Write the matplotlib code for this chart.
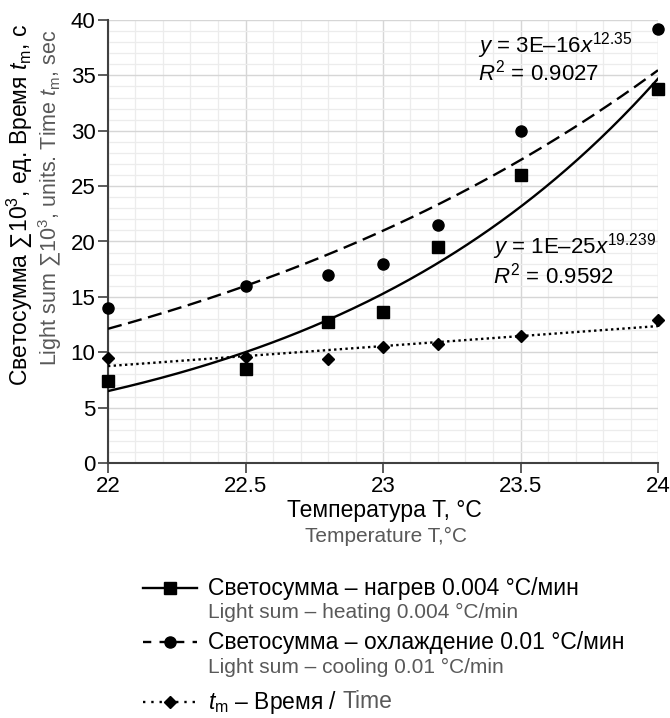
import numpy as np
import matplotlib
matplotlib.use("Agg")
import matplotlib.pyplot as plt
from matplotlib.lines import Line2D
from matplotlib.ticker import MultipleLocator

plt.rcParams['font.family'] = ['Liberation Sans', 'DejaVu Sans']
plt.rcParams['mathtext.fontset'] = 'custom'
plt.rcParams['mathtext.rm'] = 'Liberation Sans'
plt.rcParams['mathtext.it'] = 'Liberation Sans:italic'
plt.rcParams['mathtext.bf'] = 'Liberation Sans:bold'

# ---- data ----
temps = [22, 22.5, 22.8, 23, 23.2, 23.5, 24]
heating = [7.4, 8.5, 12.7, 13.6, 19.5, 26.0, 33.8]
cooling = [14.0, 16.0, 17.0, 18.0, 21.5, 30.0, 39.2]
time_tm = [9.45, 9.55, 9.4, 10.45, 10.7, 11.45, 12.9]
xticks = [22, 22.5, 23, 23.5, 24]
yticks = [0, 5, 10, 15, 20, 25, 30, 35, 40]

eq_cool = r"$y$ = 3E–16$x^{12.35}$" + "\n" + r"$R^{2}$ = 0.9027"
eq_heat = r"$y$ = 1E–25$x^{19.239}$" + "\n" + r"$R^{2}$ = 0.9592"

GRAY = '#595959'
BIG = 16.5
SMALL = 15

fig = plt.figure(figsize=(6.7, 7.18), dpi=100)
ax = fig.add_axes([108/670, 1-463/718, 550/670, 443/718])

x = np.array(temps)
xs = np.linspace(22, 24, 200)

# power-law trend lines fitted on the data
def power_fit(xv, yv):
    b, a = np.polyfit(np.log(xv), np.log(yv), 1)
    return np.exp(a) * xs ** b

ax.plot(xs, power_fit(x, np.array(heating)), color='black', lw=1.7, ls='-', zorder=3)
ax.plot(xs, power_fit(x, np.array(cooling)), color='black', lw=1.7, ls=(0, (6, 2.8)), zorder=3)
k, c = np.polyfit(x, np.array(time_tm), 1)
ax.plot(xs, k * xs + c, color='black', lw=1.7, ls=(0, (1, 1.4)), zorder=3)

ax.plot(temps, heating, ls='none', marker='s', ms=8.5, color='black', zorder=4, clip_on=False)
ax.plot(temps, cooling, ls='none', marker='o', ms=8, color='black', zorder=4, clip_on=False)
ax.plot(temps, time_tm, ls='none', marker='D', ms=6, color='black', zorder=4, clip_on=False)

ax.set_xlim(22, 24)
ax.set_ylim(0, 40)
ax.set_xticks(xticks)
ax.set_xticklabels([f"{t:g}" for t in xticks])
ax.set_yticks(yticks)
ax.xaxis.set_minor_locator(MultipleLocator(0.1))
ax.yaxis.set_minor_locator(MultipleLocator(1))
ax.grid(which='major', color='#d6d6d6', lw=1.0, zorder=0)
ax.grid(which='minor', color='#ececec', lw=0.9, zorder=0)
ax.set_axisbelow(True)
for s in ['top', 'right']:
    ax.spines[s].set_visible(False)
for s in ['left', 'bottom']:
    ax.spines[s].set_color('#404040')
    ax.spines[s].set_linewidth(1.5)
ax.tick_params(which='major', length=7, width=1.2, color='#404040', labelsize=16, pad=2)
ax.tick_params(which='minor', length=0)

# equations (one text block each)
ax.text(23.345, 36.6, eq_cool, fontsize=16, ha='left', va='center', linespacing=0.95)
ax.text(23.40, 18.35, eq_heat, fontsize=16, ha='left', va='center', linespacing=1.05)

# y label
fig.text(20/670, 1-205/718, "Светосумма ∑10$^{3}$, ед. Время $t_{\\mathrm{m}}$, с",
         rotation=90, ha='center', va='center', fontsize=BIG)
fig.text(50/670, 1-198/718, "Light sum ∑10$^{3}$, units. Time $t_{\\mathrm{m}}$, sec",
         rotation=90, ha='center', va='center', fontsize=15.5, color=GRAY)

# x label
fig.text(384/670, 1-510/718, "Температура Т, °С", ha='center', va='center', fontsize=BIG)
fig.text(386/670, 1-536/718, "Temperature T,°C", ha='center', va='center', fontsize=SMALL, color=GRAY)

# custom legend
def leg_handle(ypx, ls, marker, ms):
    yf = 1 - ypx/718
    fig.add_artist(Line2D([143/670, 197/670], [yf, yf], color='black', lw=1.7, ls=ls))
    fig.add_artist(Line2D([170/670], [yf], color='black', marker=marker, ms=ms, ls='none'))

TX = 208/670
leg_handle(588, '-', 's', 8.5)
fig.text(TX, 1-588/718, "Светосумма – нагрев 0.004 °С/мин", ha='left', va='center', fontsize=BIG)
fig.text(TX, 1-612/718, "Light sum – heating 0.004 °C/min", ha='left', va='center', fontsize=SMALL, color=GRAY)
leg_handle(642, (0, (3.5, 3.5)), 'o', 8)
fig.text(TX, 1-642/718, "Светосумма – охлаждение 0.01 °С/мин", ha='left', va='center', fontsize=BIG)
fig.text(TX, 1-667/718, "Light sum – cooling 0.01 °C/min", ha='left', va='center', fontsize=SMALL, color=GRAY)
leg_handle(702, (0, (1, 2.5)), 'D', 6.5)
t1 = fig.text(TX, 1-702/718, "$t_{\\mathrm{m}}$ – Время /", ha='left', va='center', fontsize=BIG)
fig.canvas.draw()
bb = t1.get_window_extent()
fig.text((bb.x1 + 5)/670, 1-702/718, "Time", ha='left', va='center', fontsize=BIG, color=GRAY)

fig.savefig("out.png", dpi=100)
